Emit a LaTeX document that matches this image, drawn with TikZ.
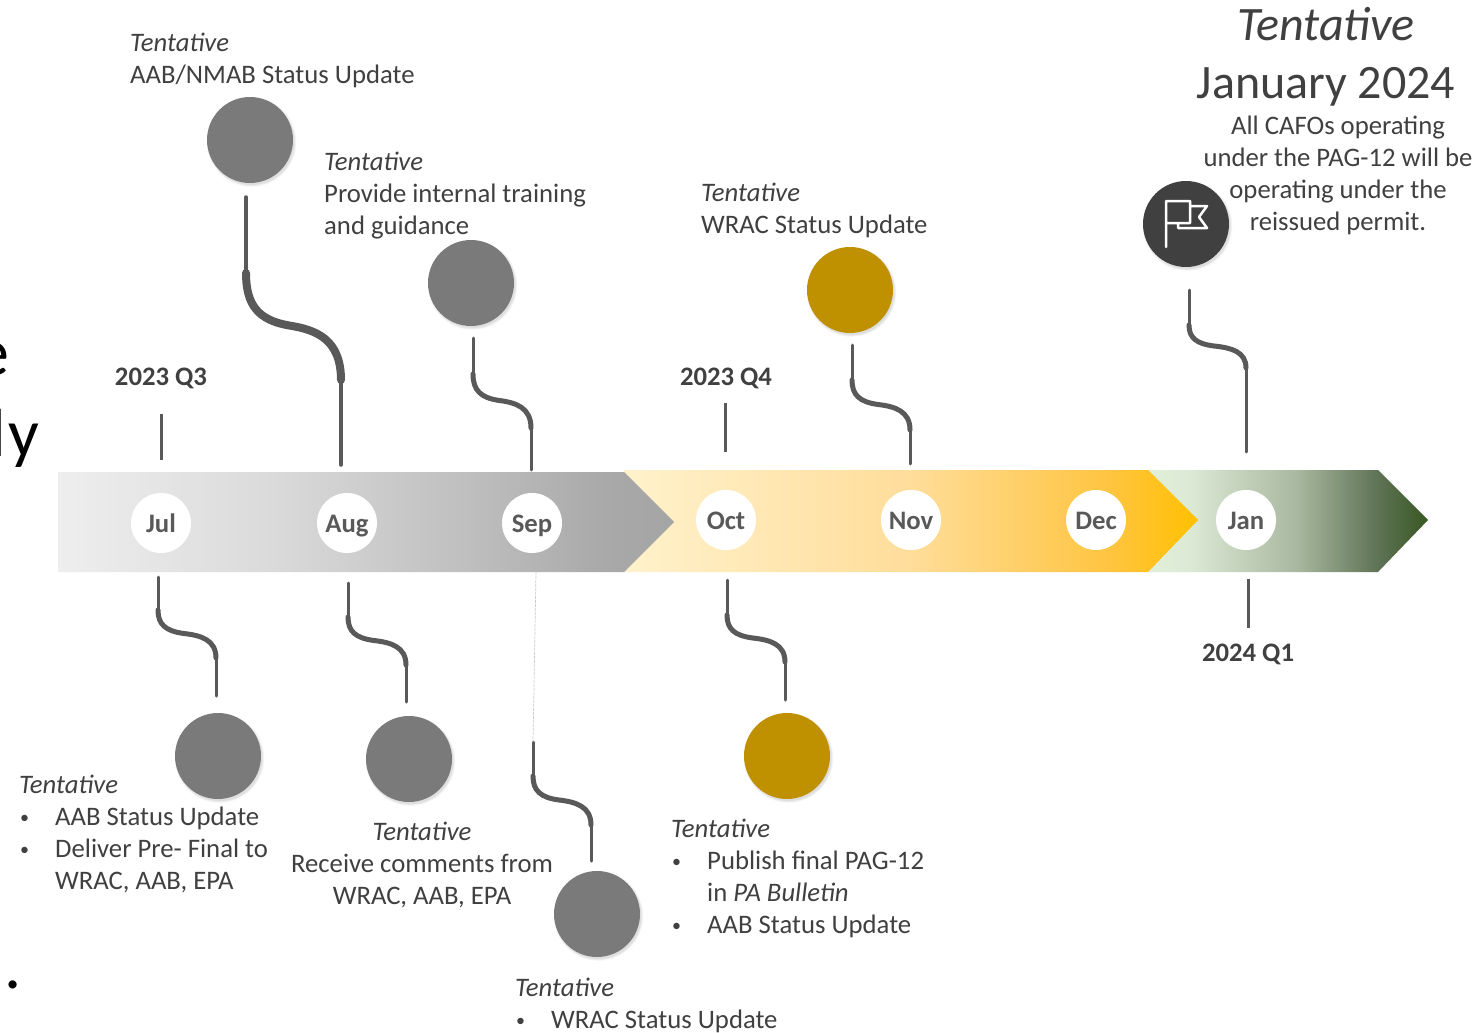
\documentclass[tikz,border=0pt]{standalone}
\usepackage{fontspec}
\setmainfont{Carlito}
\usetikzlibrary{shadows,calc}
\definecolor{txt}{HTML}{404040}
\definecolor{monthtxt}{HTML}{595959}
\definecolor{conn}{HTML}{595959}
\definecolor{mgray}{HTML}{7A7A7A}
\definecolor{mgold}{HTML}{BF9000}
\definecolor{mdark}{HTML}{404040}
\definecolor{grayA}{HTML}{EEEEEE}\definecolor{grayB}{HTML}{DADADA}\definecolor{grayC}{HTML}{C0C0C0}\definecolor{grayD}{HTML}{A8A8A8}\definecolor{grayE}{HTML}{A5A5A5}
\definecolor{yelA}{HTML}{FFF2CC}\definecolor{yelB}{HTML}{FFDD9A}\definecolor{yelC}{HTML}{FFC43F}\definecolor{yelD}{HTML}{FFC000}
\definecolor{greA}{HTML}{E2F0D9}\definecolor{greB}{HTML}{DCE9D5}\definecolor{greC}{HTML}{A9B8A0}\definecolor{greD}{HTML}{5F7355}\definecolor{greE}{HTML}{385723}
\newcommand{\bodyfont}{\fontsize{26.7}{32}\selectfont}
\newcommand{\bigfont}{\fontsize{48}{58}\selectfont}
\newcommand{\bul}{\makebox[36pt][l]{\raisebox{2pt}{\fontsize{18}{18}\selectfont\hspace*{1pt}•}}}
\newcommand{\ind}{\hspace*{36pt}}
\pgfdeclarehorizontalshading{grayarrow}{100bp}{
  color(0bp)=(grayA); color(25bp)=(grayA); color(42.5bp)=(grayB); color(57.5bp)=(grayC); color(70bp)=(grayD); color(75bp)=(grayE); color(100bp)=(grayE)}
\pgfdeclarehorizontalshading{yellowarrow}{100bp}{
  color(0bp)=(yelA); color(25bp)=(yelA); color(50bp)=(yelB); color(67.5bp)=(yelC); color(75bp)=(yelD); color(100bp)=(yelD)}
\pgfdeclarehorizontalshading{greenarrow}{100bp}{
  color(0bp)=(greA); color(25bp)=(greA); color(32.5bp)=(greB); color(51.5bp)=(greC); color(66bp)=(greD); color(75bp)=(greE); color(100bp)=(greE)}
\newcommand{\sconn}[3]{%
  \draw[thinpart,line width=#2] (#1-a) -- (#1-b);
  \draw[thinpart,line width=#2] (#1-c) -- (#1-d);
  \draw[conn,line width=#3,line cap=round] let \p1=(#1-b),\p2=(#1-c),\n1={\x2-\x1},\n2={\y2-\y1} in
    (#1-b) .. controls (\x1,\y1+0.30*\n2) and (\x1+0.13*\n1,\y1+0.44*\n2) ..
    (\x1+0.45*\n1,\y1+0.49*\n2) .. controls (\x1+0.74*\n1,\y1+0.53*\n2) and (\x2,\y1+0.62*\n2) .. (#1-c);
}
\newcommand{\defconn}[7]{%
  \coordinate (#1-a) at (#2,#3);
  \coordinate (#1-b) at (#2,#4);
  \coordinate (#1-c) at (#5,#6);
  \coordinate (#1-d) at (#5,#7);
}
\tikzset{
  x=1pt,y=-1pt,
  thinpart/.style={conn,line cap=round},
  tick/.style={conn,line width=3pt},
  month/.style={circle,fill=white,minimum size=60pt,inner sep=0pt,text=monthtxt,font=\bodyfont\bfseries,text height=18pt,text depth=0pt},
  quarter/.style={text=txt,font=\bodyfont\bfseries,inner sep=0pt,anchor=base},
  softshadow/.style={drop shadow={opacity=0.10,shadow xshift=1.5pt,shadow yshift=-2pt,shadow scale=1.0},
    drop shadow={opacity=0.09,shadow xshift=1.5pt,shadow yshift=-2pt,shadow scale=1.02},
    drop shadow={opacity=0.07,shadow xshift=1.5pt,shadow yshift=-2pt,shadow scale=1.04}},
  milestone/.style={circle,minimum size=86pt,inner sep=0pt,softshadow},
  note/.style={text=txt,font=\bodyfont,inner sep=0pt,anchor=base west,align=left},
  notec/.style={text=txt,font=\bodyfont,inner sep=0pt,anchor=base,align=center},
  frag/.style={text=black,font=\fontsize{68}{80}\selectfont,inner sep=0pt,anchor=base east},
}
\begin{document}
\begin{tikzpicture}
\useasboundingbox (0,0) rectangle (1483,1033);
\fill[white] (0,0) rectangle (1483,1033);
% cropped text at the left edge
\node[frag] (fa) at (10,375) {e};
\node[frag] (fb) at (40,456) {l\kern3pt y};
\node[frag] (fc) at (21.6,988) {s\kern1.7pt .};
% chevrons
\shade[shading=greenarrow]
  (1148,470) -- (1378,470) -- (1428,520) -- (1378,572) -- (1148,572) -- cycle;
\shade[shading=yellowarrow]
  (624,470) -- (1148,470) -- (1198,520) -- (1148,572) -- (624,572) -- cycle;
\shade[shading=grayarrow]
  (58,472) -- (624,472) -- (674,522) -- (624,572) -- (58,572) -- cycle;
% months
\node[month] (jul) at (161,523) {Jul};
\node[month] (aug) at (347,523) {Aug};
\node[month] (sep) at (532,523) {Sep};
\node[month] (oct) at (726,520) {Oct};
\node[month] (nov) at (911,520) {Nov};
\node[month] (dec) at (1096,520) {Dec};
\node[month] (jan) at (1246,520) {Jan};
% quarters
\node[quarter] (q3) at (161,385) {2023 Q3};
\node[quarter] (q4) at (726,385) {2023 Q4};
\node[quarter] (q1) at (1248,661) {2024 Q1};
\coordinate (q3a) at (161,414); \coordinate (q3b) at (161,460);
\coordinate (q4a) at (725,403); \coordinate (q4b) at (725,452);
\coordinate (q1a) at (1248,579); \coordinate (q1b) at (1248,628);
\draw[tick] (q3a) -- (q3b);
\draw[tick] (q4a) -- (q4b);
\draw[tick] (q1a) -- (q1b);
% milestones
\node[milestone,fill=mgray] (m1) at (250,140) {};
\node[milestone,fill=mgray] (m2) at (471,283) {};
\node[milestone,fill=mgold] (m3) at (850,290) {};
\node[milestone,fill=mdark] (m4) at (1186,224) {};
\node[milestone,fill=mgray] (m5) at (218,756) {};
\node[milestone,fill=mgray] (m6) at (409,759) {};
\node[milestone,fill=mgray] (m7) at (597,914) {};
\node[milestone,fill=mgold] (m8) at (787,756) {};
% flag icon
\draw[white,line width=2.5pt,line cap=round,line join=round]
  (1166,247) -- (1166,201) -- (1190,201) -- (1190,223) -- (1166,223)
  (1190,206) -- (1207,206) -- (1199,217) -- (1207,228) -- (1178,228) -- (1178,223);
% connectors
\defconn{c1}{246}{197}{273}{341}{380}{465}
\defconn{c2}{473}{338}{374}{531}{428}{470}
\defconn{c3}{852}{345}{380}{910}{430}{464}
\defconn{c4}{1189}{290}{325}{1246}{368}{452}
\defconn{c5}{158}{577}{610}{216}{658}{696}
\defconn{c6}{348}{583}{617}{406}{665}{702}
\defconn{c7}{533}{742}{776}{591}{825}{861}
\defconn{c8}{727}{580}{615}{785}{662}{700}
\sconn{c1}{3.5pt}{8pt}
\sconn{c2}{3pt}{5pt}
\sconn{c3}{3pt}{5pt}
\sconn{c4}{3pt}{5pt}
\sconn{c5}{3pt}{5pt}
\sconn{c6}{3pt}{5pt}
\sconn{c7}{3pt}{5pt}
\sconn{c8}{3pt}{5pt}
\coordinate (sepdash) at (536,572);
\draw[black!20,line width=0.7pt,dash pattern=on 3pt off 1pt] (sepdash) -- (c7-a);
% texts
\node[note] (t1) at (130,83) {\textit{Tentative}\\AAB/NMAB Status Update};
\node[note] (t2) at (324,234) {\textit{Tentative}\\Provide internal training\\and guidance};
\node[note] (t3) at (701,233) {\textit{Tentative}\\WRAC Status Update};
\node[notec,font=\bigfont] (t4) at (1326,98) {\textit{Tentative}\\January 2024};
\node[notec] (t5) at (1338,230) {All CAFOs operating\\under the PAG-12 will be\\operating under the\\reissued permit.};
\node[note] (t6) at (19,889) {\textit{Tentative}\\\bul AAB Status Update\\\bul Deliver Pre- Final to\\\ind WRAC, AAB, EPA};
\node[notec] (t7) at (422,904) {\textit{Tentative}\\Receive comments from\\WRAC, AAB, EPA};
\node[note] (t8) at (671,933) {\textit{Tentative}\\\bul Publish final PAG-12\\\ind in \textit{PA Bulletin}\\\bul AAB Status Update};
\node[note] (t9) at (515,1028) {\textit{Tentative}\\\bul WRAC Status Update};
\end{tikzpicture}
\end{document}
